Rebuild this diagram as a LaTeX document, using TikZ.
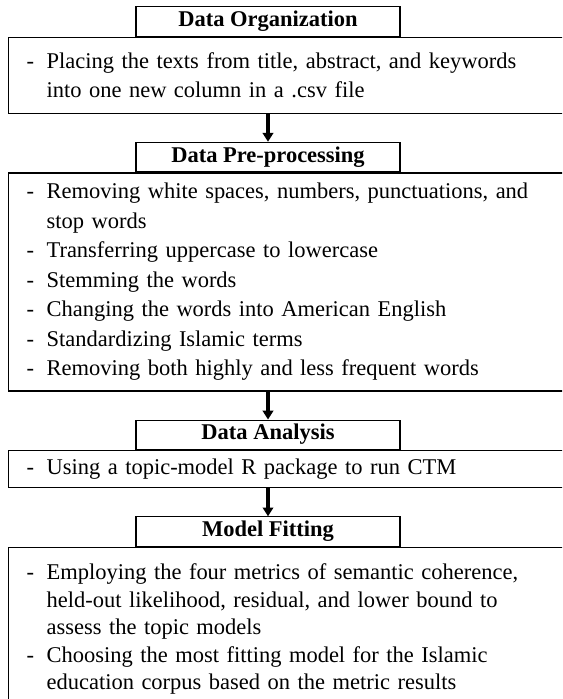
\documentclass[tikz,border=0pt]{standalone}
\usepackage{fontspec}
\setmainfont{Liberation Serif}
\usetikzlibrary{positioning,arrows.meta}

\newcommand{\itm}[1]{\makebox[5mm][l]{-}#1}
\newcommand{\cnt}[1]{\hspace*{5mm}#1}

\begin{document}
\begin{tikzpicture}[
font=\fontsize{16}{20}\selectfont,
stage/.style={
    draw,
    line width=0.8pt,
    minimum width=6.6cm,
    text height=11pt,
    text depth=4pt,
    inner ysep=3pt,
    anchor=north,
    font=\fontsize{16}{20}\selectfont\bfseries
},
tasks/.style={
    draw,
    line width=0.8pt,
    text width=13.6cm,
    align=left,
    inner xsep=0.45cm,
    inner ysep=5pt,
    anchor=north west
},
flow/.style={-{Triangle[width=2.6mm,length=2.2mm]}, line width=2.4pt}
]
\useasboundingbox (0,0) rectangle (14.05,-17.475);
\clip (0,0) rectangle (14.05,-17.475);
\coordinate (left) at (0.2,0);

%---------------- Data Organization ----------------
\node[stage] (org) at (6.7,-0.15) {Data Organization};
\node[tasks, minimum height=1.9cm, font=\fontsize{16}{21}\selectfont] (orgtask) at (org.south -| left) {
\itm{Placing the texts from title, abstract, and keywords}\\
\cnt{into one new column in a .csv file}};

%---------------- Data Pre-processing ----------------
\coordinate (a1) at (orgtask.south -| org.south);
\node[stage, below=7mm of a1] (pre) {Data Pre-processing};
\node[tasks, minimum height=5.45cm, font=\fontsize{16}{21}\selectfont] (pretask) at (pre.south -| left) {
\itm{Removing white spaces, numbers, punctuations, and}\\
\cnt{stop words}\\
\itm{Transferring uppercase to lowercase}\\
\itm{Stemming the words}\\
\itm{Changing the words into American English}\\
\itm{Standardizing Islamic terms}\\
\itm{Removing both highly and less frequent words}};

%---------------- Data Analysis ----------------
\coordinate (a2) at (pretask.south -| org.south);
\node[stage, below=7mm of a2] (ana) {Data Analysis};
\node[tasks, minimum height=0.925cm] (anatask) at (ana.south -| left) {
\itm{Using a topic-model R package to run CTM}};

%---------------- Model Fitting ----------------
\coordinate (a3) at (anatask.south -| org.south);
\node[stage, below=7mm of a3] (fit) {Model Fitting};
\node[tasks, minimum height=4.08cm, font=\fontsize{16}{19.5}\selectfont] (fittask) at (fit.south -| left) {
\itm{Employing the four metrics of semantic coherence,}\\
\cnt{held-out likelihood, residual, and lower bound to}\\
\cnt{assess the topic models}\\
\itm{Choosing the most fitting model for the Islamic}\\
\cnt{education corpus based on the metric results}};

\draw[flow] (a1) -- (pre);
\draw[flow] (a2) -- (ana);
\draw[flow] (a3) -- (fit);

\end{tikzpicture}
\end{document}
